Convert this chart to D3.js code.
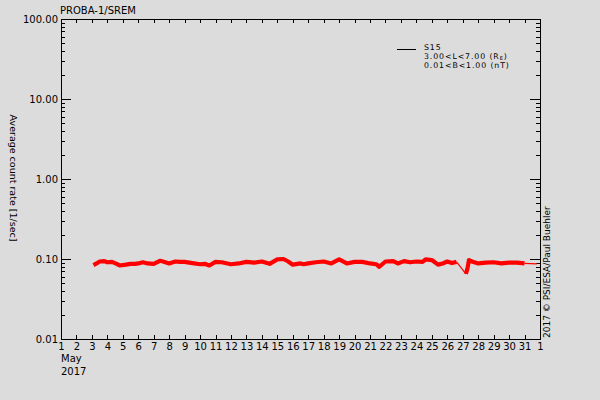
<!DOCTYPE html>
<html>
<head>
<meta charset="utf-8">
<script src="https://cdn.jsdelivr.net/npm/d3@7"></script>
<style>
	body { margin: 0; background: #dcdcdc; }
	svg { display: block; font-family: "DejaVu Sans", sans-serif; }
	.axis path, .axis line { stroke: #000; shape-rendering: crispEdges; }
	.axis text { fill: #000; }
</style>
</head>
<body>
<div class="chart"></div>
<script>
// day of May 2017 (fractional) and average count rate [1/sec], S15 channel
const daysA = [3.1, 3.3, 3.5, 3.8, 4.0, 4.3, 4.6, 4.8, 5.2, 5.5, 5.8, 6.0, 6.3, 6.6, 7.0, 7.4, 7.6, 8.0, 8.4, 8.7,
	9.0, 9.5, 10.0, 10.3, 10.6, 11.0, 11.4, 12.0, 12.5, 13.0, 13.5, 14.0, 14.5, 15.0, 15.4, 15.7, 16.0, 16.5, 16.7,
	17.0, 17.5, 18.0, 18.5, 19.0, 19.5, 20.0, 20.5, 21.0, 21.4, 21.6, 22.0, 22.5, 22.8, 23.2, 23.6, 24.0, 24.4, 24.6,
	25.0, 25.4, 25.7, 26.0, 26.3, 26.6];
const ratesA = [0.084, 0.088, 0.093, 0.094, 0.091, 0.092, 0.087, 0.083, 0.085, 0.087, 0.087, 0.088, 0.091, 0.088, 0.087, 0.095, 0.093, 0.088, 0.093, 0.092,
	0.092, 0.089, 0.086, 0.087, 0.083, 0.092, 0.091, 0.086, 0.088, 0.092, 0.090, 0.093, 0.087, 0.099, 0.100, 0.093, 0.085, 0.088, 0.086,
	0.088, 0.091, 0.093, 0.088, 0.099, 0.088, 0.092, 0.092, 0.088, 0.086, 0.080, 0.093, 0.094, 0.088, 0.094, 0.091, 0.093, 0.092, 0.099,
	0.097, 0.085, 0.088, 0.093, 0.089, 0.092];
// gap in the data around 27 May
const daysGap = [26.6, 27.2];
const ratesGap = [0.092, 0.065];
const daysB = [27.2, 27.3, 27.4, 27.6, 28.0, 28.5, 29.0, 29.5, 30.0, 30.5, 31.0];
const ratesB = [0.065, 0.075, 0.097, 0.093, 0.088, 0.090, 0.091, 0.088, 0.090, 0.090, 0.088];
// last values of the month
const daysTail = [31.0, 31.8];
const ratesTail = [0.088, 0.087];

// axis ticks
const dayTicks = [1, 2, 3, 4, 5, 6, 7, 8, 9, 10, 11, 12, 13, 14, 15, 16, 17, 18, 19, 20, 21, 22, 23, 24, 25, 26, 27, 28, 29, 30, 31, 32];
const dayLabels = ["1", "2", "3", "4", "5", "6", "7", "8", "9", "10", "11", "12", "13", "14", "15", "16", "17", "18", "19", "20",
	"21", "22", "23", "24", "25", "26", "27", "28", "29", "30", "31", "1"];
const rateTicks = [0.01, 0.1, 1, 10, 100];
const rateMinor = [0.02, 0.03, 0.04, 0.05, 0.06, 0.07, 0.08, 0.09, 0.2, 0.3, 0.4, 0.5, 0.6, 0.7, 0.8, 0.9,
	2, 3, 4, 5, 6, 7, 8, 9, 20, 30, 40, 50, 60, 70, 80, 90];
const legendLines = ["S15", "3.00<L<7.00 (R", "0.01<B<1.00 (nT)"];

const margin = ({top: 19, right: 60, bottom: 61, left: 61});
const width = 600 - margin.left - margin.right;
const height = 400 - margin.top - margin.bottom;

const svg = d3.select(".chart")
	.append("svg")
	.attr("width", 600)
	.attr("height", 400)
	.append("g")
	.attr("transform", "translate(" + margin.left + "," + margin.top + ")");

const xScale = d3.scaleLinear()
	.domain([1, 32])
	.range([0, width]);

const yScale = d3.scaleLog()
	.domain([0.01, 100])
	.range([height, 0]);

//Axes
svg.append("g")
	.attr("class", "axis")
	.attr("font-size", 9.5)
	.call(d3.axisLeft(yScale).tickValues(rateTicks).tickFormat(d3.format(".2f"))
		.tickSizeInner(-10).tickSizeOuter(0).tickPadding(3));

svg.append("g")
	.attr("class", "axis")
	.call(d3.axisLeft(yScale).tickValues(rateMinor).tickFormat("")
		.tickSizeInner(-4).tickSizeOuter(0));

svg.append("g")
	.attr("class", "axis")
	.attr("transform", `translate(${width}, 0)`)
	.call(d3.axisRight(yScale).tickValues(rateTicks).tickFormat("")
		.tickSizeInner(-10).tickSizeOuter(0));

svg.append("g")
	.attr("class", "axis")
	.attr("transform", `translate(${width}, 0)`)
	.call(d3.axisRight(yScale).tickValues(rateMinor).tickFormat("")
		.tickSizeInner(-4).tickSizeOuter(0));

svg.append("g")
	.attr("class", "axis")
	.attr("font-size", 9.5)
	.attr("transform", `translate(0, ${height})`)
	.call(d3.axisBottom(xScale).tickValues(dayTicks).tickFormat((d, i) => dayLabels[i])
		.tickSizeInner(-4).tickSizeOuter(0).tickPadding(4));

svg.append("g")
	.attr("class", "axis")
	.call(d3.axisTop(xScale).tickValues(dayTicks).tickFormat("")
		.tickSizeInner(-4).tickSizeOuter(0));

svg.selectAll(".axis text").attr("font-family", "DejaVu Sans, sans-serif");

//Data
const line = d3.line()
	.x(d => xScale(d[0]))
	.y(d => yScale(d[1]));

const thick = [d3.zip(daysA, ratesA), d3.zip(daysB, ratesB)];
const thin = [d3.zip(daysGap, ratesGap), d3.zip(daysTail, ratesTail)];

svg.selectAll(".thin")
	.data(thin)
	.enter()
	.append("path")
	.attr("class", "thin")
	.attr("d", line)
	.attr("fill", "none")
	.attr("stroke", "#ff0000")
	.attr("stroke-width", 1.2);

svg.selectAll(".thick")
	.data(thick)
	.enter()
	.append("path")
	.attr("class", "thick")
	.attr("d", line)
	.attr("fill", "none")
	.attr("stroke", "#ff0000")
	.attr("stroke-width", 4.2)
	.attr("stroke-linejoin", "round");

//Labels
const root = d3.select("svg");

root.append("text")
	.attr("x", 60)
	.attr("y", 14)
	.attr("font-size", 10)
	.text("PROBA-1/SREM");

root.append("text")
	.attr("x", 61)
	.attr("y", 362)
	.attr("font-size", 10)
	.text("May");

root.append("text")
	.attr("x", 61)
	.attr("y", 375)
	.attr("font-size", 10)
	.text("2017");

root.append("text")
	.attr("transform", "translate(10, 178) rotate(90)")
	.attr("font-size", 9.5)
	.style("text-anchor", "middle")
	.text("Average count rate [1/sec]");

root.append("text")
	.attr("transform", "translate(550, 338) rotate(-90)")
	.attr("font-size", 9)
	.style("text-anchor", "start")
	.text("2017 \u00a9 PSI/ESA/Paul Buehler");

//Legend
root.append("line")
	.attr("x1", 397)
	.attr("x2", 416)
	.attr("y1", 49.5)
	.attr("y2", 49.5)
	.attr("stroke", "#000")
	.style("shape-rendering", "crispEdges");

const legend = root.selectAll(".legend")
	.data(legendLines)
	.enter()
	.append("text")
	.attr("class", "legend")
	.attr("x", 424)
	.attr("y", (d, i) => 50 + i * 9)
	.attr("font-size", 7.8)
	.attr("letter-spacing", 0.9)
	.text(d => d);

legend.filter((d, i) => i === 1)
	.append("tspan")
	.attr("font-size", 5)
	.attr("dy", 1)
	.text("E");

legend.filter((d, i) => i === 1)
	.append("tspan")
	.attr("dy", -1)
	.text(")");
</script>
</body>
</html>
